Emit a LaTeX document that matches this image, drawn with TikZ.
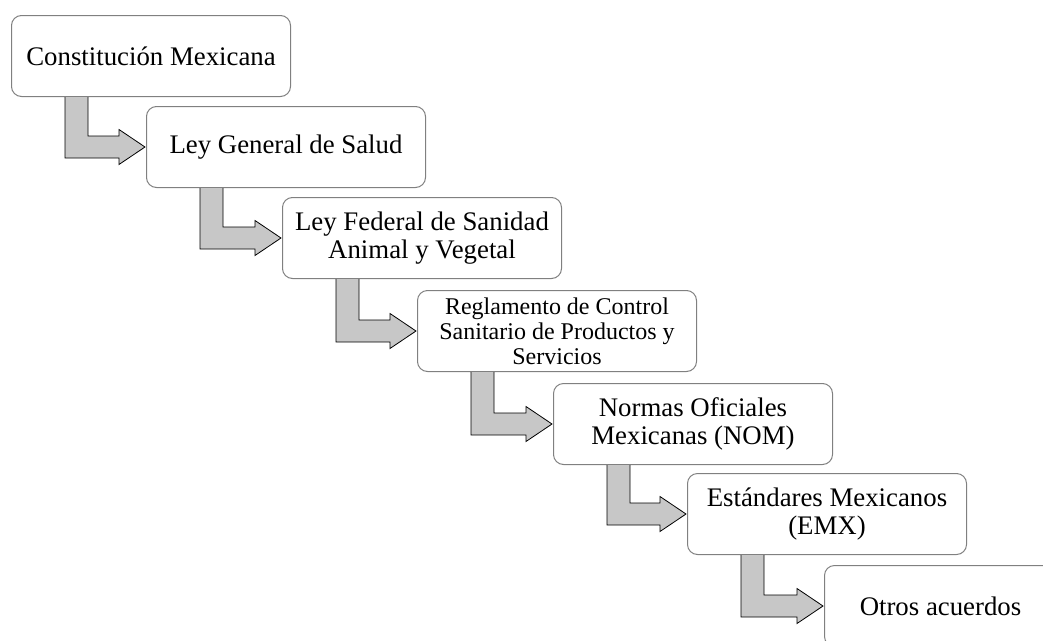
\documentclass[tikz,border=0pt]{standalone}
\usepackage{fontspec}
\setmainfont{Liberation Serif}
\usetikzlibrary{calc}
\tikzset{
    paso/.style={draw=gray,line width=1pt,rounded corners=10pt,fill=white,anchor=north west,
        minimum width=279pt,minimum height=81pt,align=center,inner sep=2pt,
        font=\fontsize{26.8}{28.5}\selectfont},
    pasochico/.style={paso,font=\fontsize{24}{25}\selectfont},
    flecha/.style={draw=black,fill=black!22,line width=0.8pt,line join=miter}
}

\begin{document}
\begin{tikzpicture}[x=1pt,y=-1pt]
\clip(0,0)rectangle(1043,640);
\node[paso](const) at (11,15){Constitución Mexicana};
\node[paso](lgs) at (146,106){Ley General de Salud};
\node[paso](lfsav) at (282,197){Ley Federal de Sanidad\\Animal y Vegetal};
\node[pasochico](rcs) at (417,290){Reglamento de Control\\Sanitario de Productos y\\Servicios};
\node[paso](nom) at (553,383){Normas Oficiales\\Mexicanas (NOM)};
\node[paso](emx) at (687,473){Estándares Mexicanos\\(EMX)};
\node[paso,minimum width=232pt](otros) at (824,565){Otros acuerdos};

\foreach \a/\b in {const/lgs,lgs/lfsav,lfsav/rcs,rcs/nom,nom/emx,emx/otros}
	\filldraw[flecha] let \p1=(\a.south west), \p2=(\b.west) in
		(\x1+77pt,\y1)--(\x1+77pt,\y2+11pt)--(\x2-27pt,\y2+11pt)--(\x2-27pt,\y2+17.5pt)
		--(\x2-1pt,\y2)--(\x2-27pt,\y2-17.5pt)--(\x2-27pt,\y2-11pt)
		--(\x1+54pt,\y2-11pt)--(\x1+54pt,\y1);
\end{tikzpicture}
\end{document}
